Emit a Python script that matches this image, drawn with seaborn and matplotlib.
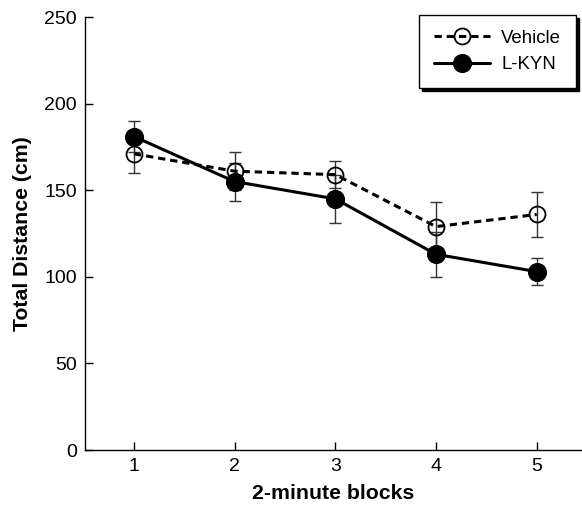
import matplotlib
matplotlib.use("Agg")
import matplotlib.pyplot as plt
import seaborn as sns
import pandas as pd

blocks = [1, 2, 3, 4, 5]
vehicle_mean = [171, 161, 159, 129, 136]
vehicle_err = [11, 11, 8, 14, 13]
lkyn_mean = [181, 155, 145, 113, 103]
lkyn_err = [9, 11, 14, 13, 8]

sns.set_style("ticks", {"xtick.direction": "in", "ytick.direction": "in"})
plt.rcParams['font.family'] = ['Liberation Sans', 'DejaVu Sans']
plt.rcParams['xtick.direction'] = 'in'
plt.rcParams['ytick.direction'] = 'in'
plt.rcParams['text.color'] = 'black'
plt.rcParams['axes.labelcolor'] = 'black'
plt.rcParams['xtick.color'] = 'black'
plt.rcParams['ytick.color'] = 'black'

df = pd.DataFrame({
    "block": blocks * 2,
    "dist": vehicle_mean + lkyn_mean,
    "group": ["Vehicle"] * 5 + ["L-KYN"] * 5,
})

fig = plt.figure(figsize=(5.82, 5.07), dpi=100)
ax = fig.add_axes([0.146, 0.1124, 0.854, 0.854])

ax.errorbar(blocks, vehicle_mean, yerr=vehicle_err, fmt="none", ecolor="#333333",
            elinewidth=1.0, capsize=4, capthick=1.0, zorder=2)
ax.errorbar(blocks, lkyn_mean, yerr=lkyn_err, fmt="none", ecolor="#333333",
            elinewidth=1.0, capsize=4, capthick=1.0, zorder=2)

sns.lineplot(data=df[df.group == "Vehicle"], x="block", y="dist", ax=ax,
             color="black", linestyle=(0, (2.4, 1.6)), linewidth=2.2,
             marker="o", markersize=11.5, markerfacecolor="none",
             markeredgecolor="black", markeredgewidth=1.3, label="Vehicle", zorder=3)
sns.lineplot(data=df[df.group == "L-KYN"], x="block", y="dist", ax=ax,
             color="black", linestyle="-", linewidth=2.2,
             marker="o", markersize=13, markerfacecolor="black",
             markeredgecolor="black", label="L-KYN", zorder=4)

ax.set_xlim(0.513, 5.45)
ax.set_ylim(0, 250)
ax.set_xticks(blocks)
ax.set_yticks([0, 50, 100, 150, 200, 250])
ax.tick_params(axis="both", direction="in", length=6, width=1, labelsize=14,
               color="black", labelcolor="black")
ax.tick_params(axis="x", pad=6)
ax.tick_params(axis="y", pad=6)
for s in ["top", "right"]:
    ax.spines[s].set_visible(False)
for s in ["left", "bottom"]:
    ax.spines[s].set_linewidth(1.0)
    ax.spines[s].set_color("black")

ax.set_xlabel("2-minute blocks", fontsize=15.3, fontweight="bold", labelpad=6)
ax.set_ylabel("Total Distance (cm)", fontsize=15.3, fontweight="bold", labelpad=9)

leg = ax.legend(loc="upper right", bbox_to_anchor=(0.988, 1.005), frameon=True,
                fancybox=False, shadow={"color": "black", "alpha": 1.0},
                fontsize=13.4, handlelength=3.0, borderpad=0.8, labelspacing=0.5,
                handletextpad=0.6, borderaxespad=0, edgecolor="black")
leg.get_frame().set_linewidth(1.0)

fig.savefig("out.png", dpi=100)
